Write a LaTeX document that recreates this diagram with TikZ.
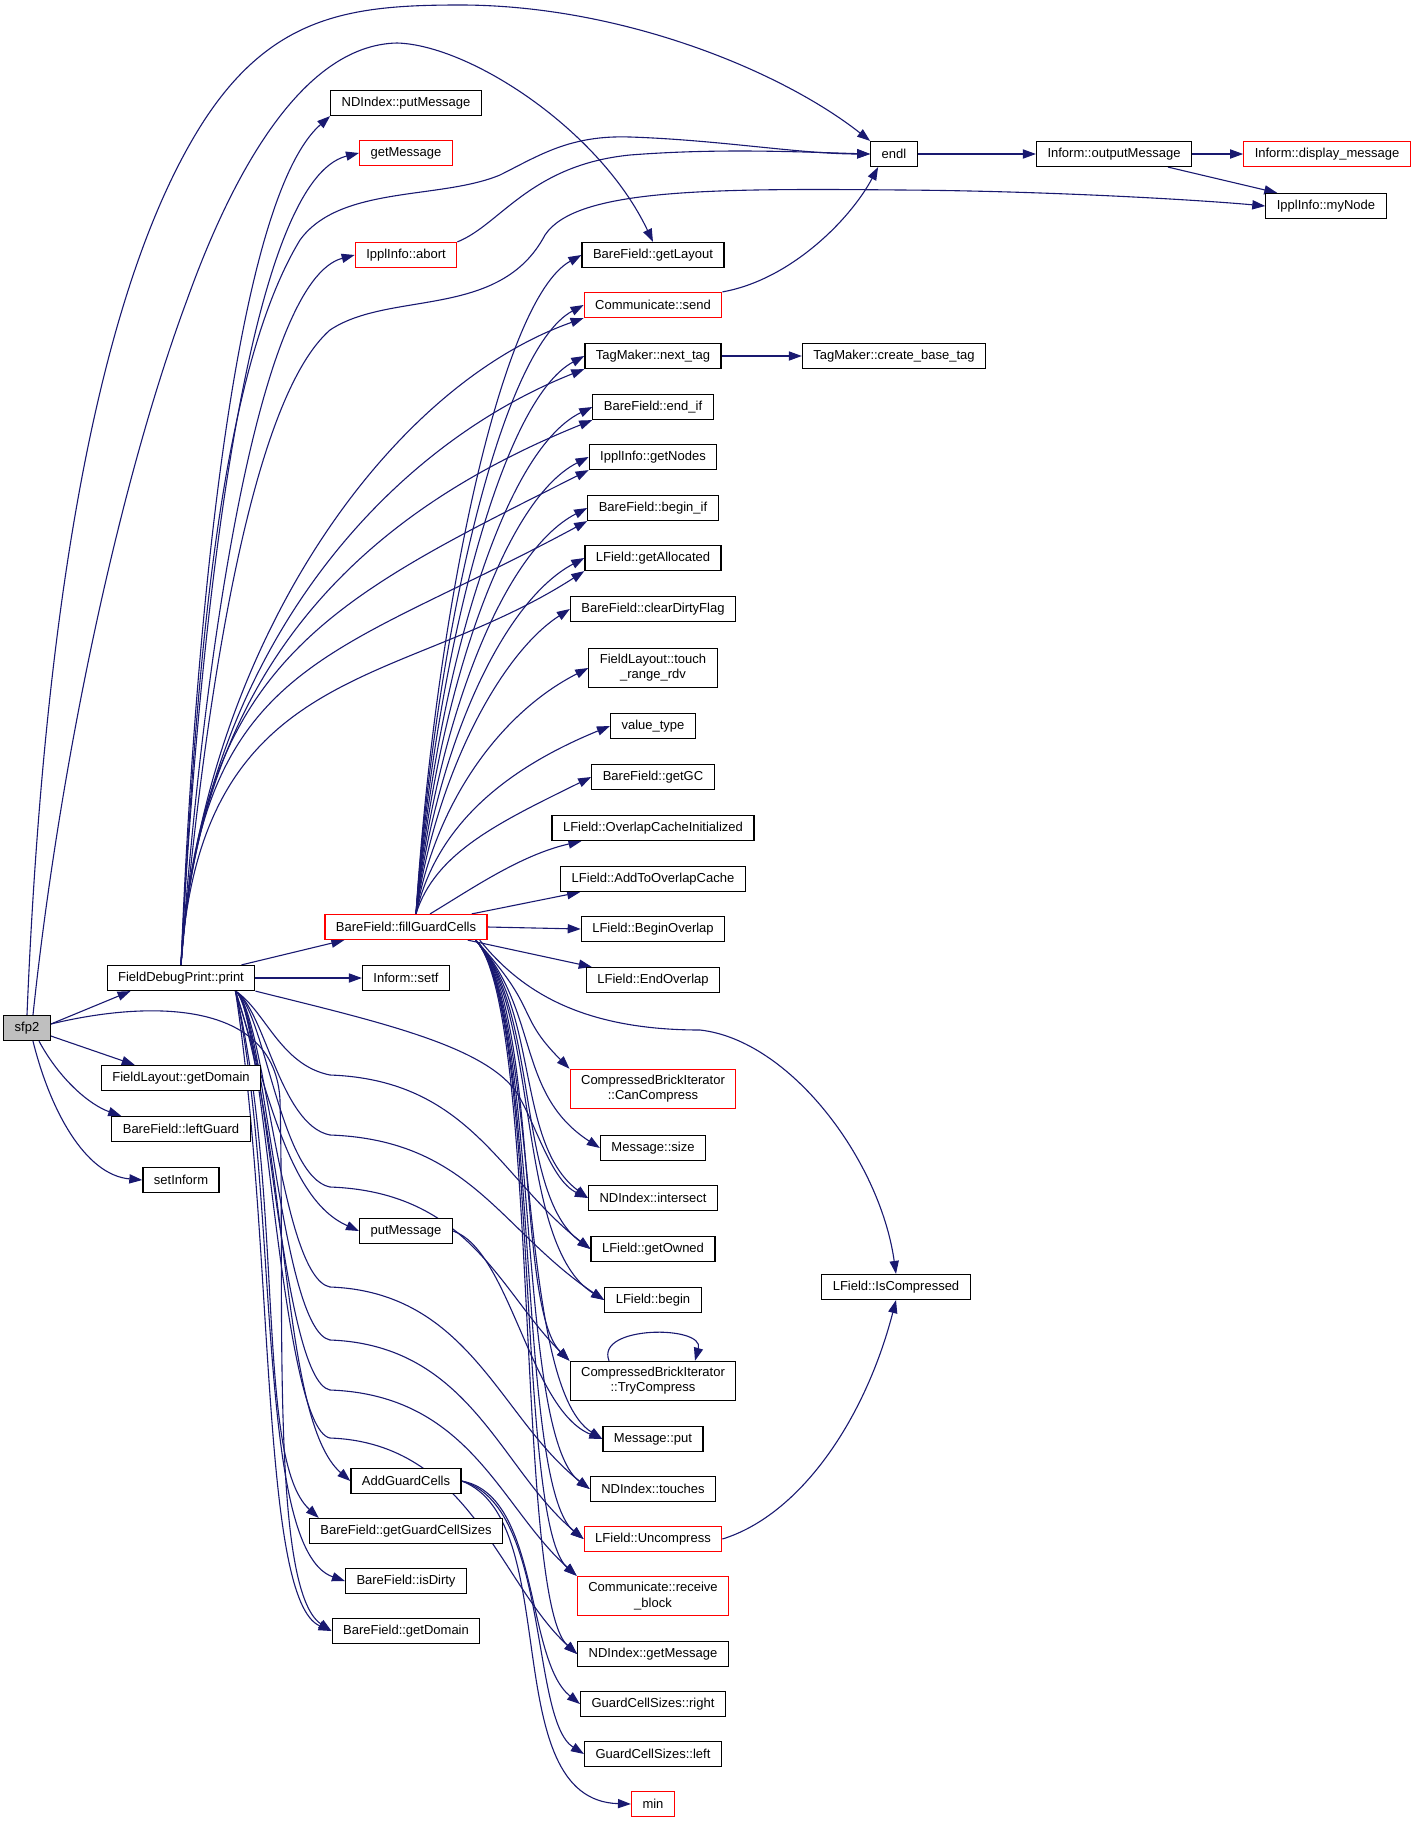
\documentclass[tikz,border=0pt]{standalone}
\usepackage{fontspec}
\newfontfamily\dxfont{Liberation Sans}
\usetikzlibrary{arrows.meta,backgrounds}
\definecolor{edgeblue}{RGB}{25,25,112}

\begin{document}
\begin{tikzpicture}
  [x=0.5pt,y=-0.5pt,
   every node/.style={rectangle,draw=black,fill=white,line width=0.6pt,
     font=\dxfont\fontsize{6.5}{7.6}\selectfont,inner xsep=5.5pt,inner ysep=3pt,
     minimum height=12.5pt,align=center},
   fnred/.style={draw=red},
   fnroot/.style={fill=black!25},
   calls/.style={draw=edgeblue,line width=0.55pt,-{Triangle[length=6.5pt,width=4.6pt]}}]
  \useasboundingbox (0,0) rectangle (1413,1831);

  \node[fnroot] (sfp) at (27,1028) {sfp2};

  \node (fdp)    at (181,978)  {FieldDebugPrint::print};
  \node (fld)    at (181,1078) {FieldLayout::getDomain};
  \node (lguard) at (181,1129) {BareField::leftGuard};
  \node (setinf) at (181,1180) {setInform};

  \node (ndput)          at (406,103)  {NDIndex::putMessage};
  \node[fnred] (getmsg)  at (406,153)  {getMessage};
  \node[fnred] (abort)   at (406,255)  {IpplInfo::abort};
  \node[fnred] (fill)    at (406,927)  {BareField::fillGuardCells};
  \node (setf)   at (406,978)  {Inform::setf};
  \node (putmsg) at (406,1231) {putMessage};
  \node (addgc)  at (406,1481) {AddGuardCells};
  \node (getgcs) at (406,1531) {BareField::getGuardCellSizes};
  \node (dirty)  at (406,1581) {BareField::isDirty};
  \node (bdom)   at (406,1631) {BareField::getDomain};

  \node (glay)         at (653,255)  {BareField::getLayout};
  \node[fnred] (send)  at (653,305)  {Communicate::send};
  \node (ntag)    at (653,356)  {TagMaker::next\_tag};
  \node (endif)   at (653,407)  {BareField::end\_if};
  \node (nodes)   at (653,457)  {IpplInfo::getNodes};
  \node (beginif) at (653,508)  {BareField::begin\_if};
  \node (alloc)   at (653,558)  {LField::getAllocated};
  \node (clean)   at (653,609)  {BareField::clearDirtyFlag};
  \node (touch)   at (653,668)  {FieldLayout::touch\\\_range\_rdv};
  \node (vtype)   at (653,726)  {value\_type};
  \node (getgc)   at (653,777)  {BareField::getGC};
  \node (oci)     at (653,828)  {LField::OverlapCacheInitialized};
  \node (ato)     at (653,879)  {LField::AddToOverlapCache};
  \node (bover)   at (653,929)  {LField::BeginOverlap};
  \node (eover)   at (653,980)  {LField::EndOverlap};
  \node[fnred] (canc) at (653,1089) {CompressedBrickIterator\\::CanCompress};
  \node (msize)   at (653,1148) {Message::size};
  \node (isect)   at (653,1198) {NDIndex::intersect};
  \node (owned)   at (653,1249) {LField::getOwned};
  \node (lbegin)  at (653,1300) {LField::begin};
  \node (tryc)    at (653,1381) {CompressedBrickIterator\\::TryCompress};
  \node (mput)    at (653,1439) {Message::put};
  \node (touches) at (653,1489) {NDIndex::touches};
  \node[fnred] (uncomp) at (653,1539) {LField::Uncompress};
  \node[fnred] (recv)   at (653,1596) {Communicate::receive\\\_block};
  \node (ndget)   at (653,1654) {NDIndex::getMessage};
  \node (gright)  at (653,1704) {GuardCellSizes::right};
  \node (gleft)   at (653,1754) {GuardCellSizes::left};
  \node[fnred] (min) at (653,1804) {min};

  \node (endl)   at (894,154)  {endl};
  \node (cbt)    at (894,356)  {TagMaker::create\_base\_tag};
  \node (iscomp) at (896,1287) {LField::IsCompressed};
  \node (outm)   at (1114,154) {Inform::outputMessage};
  \node[fnred] (dispm) at (1327,154) {Inform::display\_message};
  \node (mynode) at (1326,206) {IpplInfo::myNode};

  \begin{scope}[on background layer]
  \foreach \from/\to in {fdp.east/setf.west, fill.east/bover.west, endl.east/outm.west,
                         outm.east/dispm.west, ntag.east/cbt.west}
    \draw[calls] (\from) -- (\to);

  % sfp2
  \draw[calls] ([yshift=2pt]sfp.east) -- ([xshift=12pt]fdp.south west);
  \draw[calls] ([yshift=-4pt]sfp.east) -- ([xshift=17pt]fld.north west);
  \draw[calls] ([xshift=6pt]sfp.south) .. controls (60,1080) and (90,1105) .. ([xshift=5pt]lguard.north west);
  \draw[calls] ([xshift=3pt]sfp.south) .. controls (50,1110) and (85,1175) .. (setinf.west);
  \draw[calls] ([yshift=2pt]sfp.east) .. controls (150,1000) and (275,1000) .. (280,1100)
    .. controls (285,1300) and (270,1590) .. (bdom.west);
  \draw[calls] (sfp.north) .. controls (40,700) and (80,320) .. (200,127)
    .. controls (270,15) and (350,5) .. (460,5) .. controls (620,5) and (780,70) .. (endl.north west);
  \draw[calls] ([xshift=3pt]sfp.north) .. controls (60,760) and (120,480) .. (187,300)
    .. controls (230,180) and (300,45) .. (397,43) .. controls (470,45) and (600,130) .. (glay.north);

  % FieldDebugPrint::print, upwards
  \draw[calls] ([xshift=-7pt]fdp.north east) -- ([xshift=10pt]fill.south west);
  \draw[calls] (fdp.north) .. controls (195,620) and (235,200) .. (ndput.south west);
  \draw[calls] (fdp.north) .. controls (200,600) and (250,180) .. (getmsg.west);
  \draw[calls] (fdp.north) .. controls (205,640) and (260,280) .. (abort.west);
  \draw[calls] (fdp.north) .. controls (195,700) and (215,380) .. (300,240)
    .. controls (340,185) and (440,200) .. (500,175) .. controls (540,155) and (570,135) .. (630,137)
    .. controls (720,140) and (800,154) .. (endl.west);
  \draw[calls] (fdp.north) .. controls (205,700) and (250,400) .. (330,330)
    .. controls (390,290) and (500,320) .. (545,235) .. controls (575,190) and (700,188) .. (900,190)
    .. controls (1050,191) and (1200,200) .. (mynode.west);
  \foreach \t/\cx/\cy in {send/380/390, ntag/380/450, endif/370/510, nodes/330/600,
                          beginif/330/660, alloc/400/690}
    \draw[calls] (fdp.north) .. controls (200,660) and (\cx,\cy) .. (\t.south west);

  % FieldDebugPrint::print, downwards
  \draw[calls] ([xshift=-10pt]fdp.south east) .. controls (270,1100) and (290,1200) .. (putmsg.west);
  \draw[calls] ([xshift=-10pt]fdp.south east) .. controls (290,1150) and (280,1420) .. (addgc.west);
  \draw[calls] ([xshift=-10pt]fdp.south east) .. controls (285,1200) and (255,1460) .. ([xshift=5pt]getgcs.north west);
  \draw[calls] ([xshift=-10pt]fdp.south east) .. controls (280,1200) and (255,1550) .. (dirty.west);
  \draw[calls] ([xshift=-10pt]fdp.south east) .. controls (275,1250) and (260,1600) .. (bdom.west);
  \draw[calls] (fdp.south east) .. controls (380,1022) and (480,1045) .. (515,1090)
    .. controls (535,1120) and (550,1180) .. (isect.west);
  \foreach \t/\l/\y in {owned.west/1075/1249, lbegin.west/1135/1300, tryc.north west/1187/1362,
                        touches.west/1287/1489, uncomp.west/1340/1539, recv.north west/1390/1577,
                        ndget.west/1438/1654}
    \draw[calls] ([xshift=-10pt]fdp.south east) .. controls (265,1010) and (280,\l-10) .. (330,\l)
      .. controls (470,\l+5) and (500,\y-70) .. (\t);

  % BareField::fillGuardCells
  \foreach \t/\y in {glay/255, send/305, ntag/356, endif/407, nodes/457, beginif/508,
                     alloc/558, clean/609, touch/668, vtype/726, getgc/777}
    \draw[calls] ([xshift=5pt]fill.north) .. controls (435,{914-0.45*(914-\y)}) and (500,\y+45) .. (\t.west);
  \draw[calls] ([xshift=12pt]fill.north) .. controls (470,890) and (520,855) .. ([xshift=15pt]oci.south west);
  \draw[calls] ([xshift=-8pt]fill.north east) -- ([xshift=10pt]ato.south west);
  \draw[calls] ([xshift=-10pt]fill.south east) -- ([xshift=3pt]eover.north west);
  \draw[calls] ([xshift=-4pt]fill.south east) .. controls (520,990) and (580,1030) .. (700,1030)
    .. controls (790,1040) and (880,1160) .. (iscomp.north);
  \foreach \t/\y in {canc.north west/1069, msize.west/1148, isect.west/1198, owned.west/1249,
                     lbegin.west/1300, tryc.north west/1362, mput.west/1439, touches.west/1489,
                     uncomp.west/1539, recv.north west/1577, ndget.west/1654}
    \draw[calls] ([xshift=-6pt]fill.south east) .. controls (540,1010) and (515,\y-55) .. (\t);

  % the rest
  \draw[calls] (abort.north east) .. controls (500,225) and (530,165) .. (630,155)
    .. controls (720,148) and (800,152) .. (endl.west);
  \draw[calls] (send.north east) .. controls (790,280) and (850,220) .. ([xshift=4pt]endl.south west);
  \draw[calls] ([xshift=27pt]outm.south) -- ([xshift=6pt]mynode.north west);
  \draw[calls] ([xshift=-22pt]tryc.north) .. controls (595,1325) and (705,1325) .. ([xshift=21pt]tryc.north);
  \draw[calls] (uncomp.east) .. controls (800,1515) and (865,1420) .. (iscomp.south);
  \draw[calls] (putmsg.east) .. controls (510,1250) and (530,1410) .. (mput.west);
  \draw[calls] (addgc.east) .. controls (540,1495) and (525,1660) .. (gright.west);
  \draw[calls] (addgc.east) .. controls (550,1505) and (530,1720) .. (gleft.west);
  \draw[calls] (addgc.east) .. controls (565,1520) and (495,1800) .. (min.west);
  \end{scope}
\end{tikzpicture}
\end{document}
